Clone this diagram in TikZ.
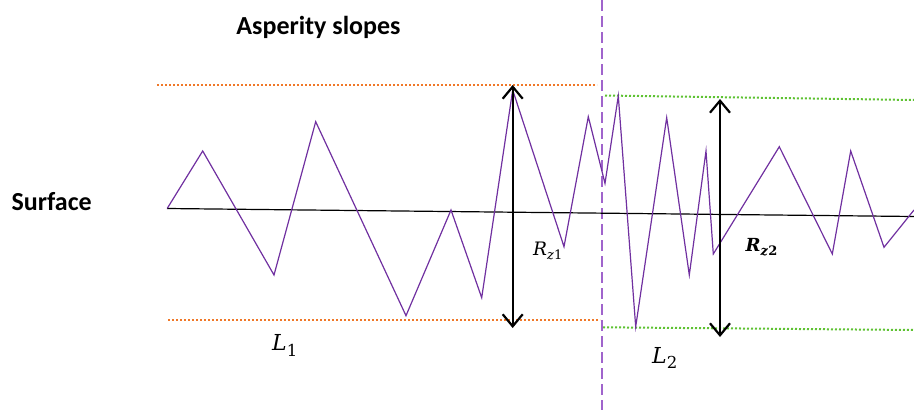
\documentclass[tikz,border=0pt]{standalone}
\usepackage{fontspec}
\usetikzlibrary{arrows.meta}
\newfontfamily\carlito{Carlito}
\newfontfamily\mathlike{DejaVu Serif}
\definecolor{surfpurple}{HTML}{7030A0}
\definecolor{divpurple}{HTML}{A064CC}
\definecolor{lvlorange}{HTML}{F07828}
\definecolor{lvlgreen}{HTML}{5EC232}
\tikzset{
  profile/.style={surfpurple, line width=1.2pt, line join=miter},
  meanline/.style={black, line width=1.2pt},
  orangelvl/.style={lvlorange, line width=2pt, dash pattern=on 2pt off 2pt},
  greenlvl/.style={lvlgreen, line width=2pt, dash pattern=on 2pt off 2pt},
  divider/.style={divpurple, line width=1.8pt, dash pattern=on 11pt off 5pt},
  rzarrow/.style={black, line width=2.4pt, {Straight Barb[length=12pt,width=20pt,line width=2.2pt]}-{Straight Barb[length=12pt,width=20pt,line width=2.2pt]}},
  heading/.style={font=\carlito\bfseries\fontsize{26}{30}\selectfont, inner sep=0pt, anchor=base},
  mathlbl/.style={inner sep=0pt, anchor=base west},
}
\begin{document}
\begin{tikzpicture}[x=1pt, y=-1pt]
\useasboundingbox (0,0) rectangle (914,410);
% divider
\coordinate (dtop) at (602.3,0);
\coordinate (dbot) at (602.3,410);
\draw[divider] (dtop) -- (dbot);
% level lines
\coordinate (o1a) at (157,84.7);  \coordinate (o1b) at (597,84.7);
\coordinate (o2a) at (168,320);   \coordinate (o2b) at (600,320);
\coordinate (g1a) at (605,95.5);  \coordinate (g1b) at (914,100);
\coordinate (g2a) at (603,327.3); \coordinate (g2b) at (914,330);
\draw[orangelvl] (o1a) -- (o1b);
\draw[orangelvl] (o2a) -- (o2b);
\draw[greenlvl] (g1a) -- (g1b);
\draw[greenlvl] (g2a) -- (g2b);
% mean line
\coordinate (m1) at (167,208.5);
\coordinate (m2) at (914,216.5);
\draw[meanline] (m1) -- (m2);
% surface profile
\draw[profile] (167.3,208.3) -- (202.7,151) -- (274,275) -- (315.7,121.7)
  -- (406,315.7) -- (451,210) -- (481.7,297.7) -- (512.7,90) -- (564,246.7)
  -- (588.3,116.7) -- (605,183.3) -- (618.3,96) -- (635.7,326.7)
  -- (666.7,117.7) -- (689.3,275) -- (706,151) -- (713.3,254)
  -- (779.3,146.7) -- (832.3,254) -- (850.7,151) -- (884,247.3) -- (914,210);
% arrows
\coordinate (a1t) at (512.7,85);
\coordinate (a1b) at (512.7,328);
\coordinate (a2t) at (720,99);
\coordinate (a2b) at (720,337);
\draw[rzarrow] (a1t) -- (a1b);
\draw[rzarrow] (a2t) -- (a2b);
% labels
\node[heading] (title) at (318.5,34) {Asperity slopes};
\node[heading] (surf) at (51.7,210.5) {Surface};
\node[mathlbl, font=\mathlike\fontsize{18.5}{22}\selectfont] (rz1) at (533,255.7) {\textit{R}\raisebox{-4pt}{\fontsize{13}{15}\selectfont\textit{z}1}};
\node[mathlbl, font=\mathlike\bfseries\fontsize{18}{22}\selectfont] (rz2) at (745.5,251.7) {\textit{R}\raisebox{-4pt}{\fontsize{13}{15}\selectfont\textit{z}2}};
\node[mathlbl, font=\mathlike\fontsize{22}{26}\selectfont] (l1) at (272,350.7) {\textit{L}\raisebox{-5.5pt}{\fontsize{16.5}{20}\selectfont 1}};
\node[mathlbl, font=\mathlike\fontsize{22}{26}\selectfont] (l2) at (652,363) {\textit{L}\raisebox{-5.5pt}{\fontsize{16.5}{20}\selectfont 2}};
\end{tikzpicture}
\end{document}
